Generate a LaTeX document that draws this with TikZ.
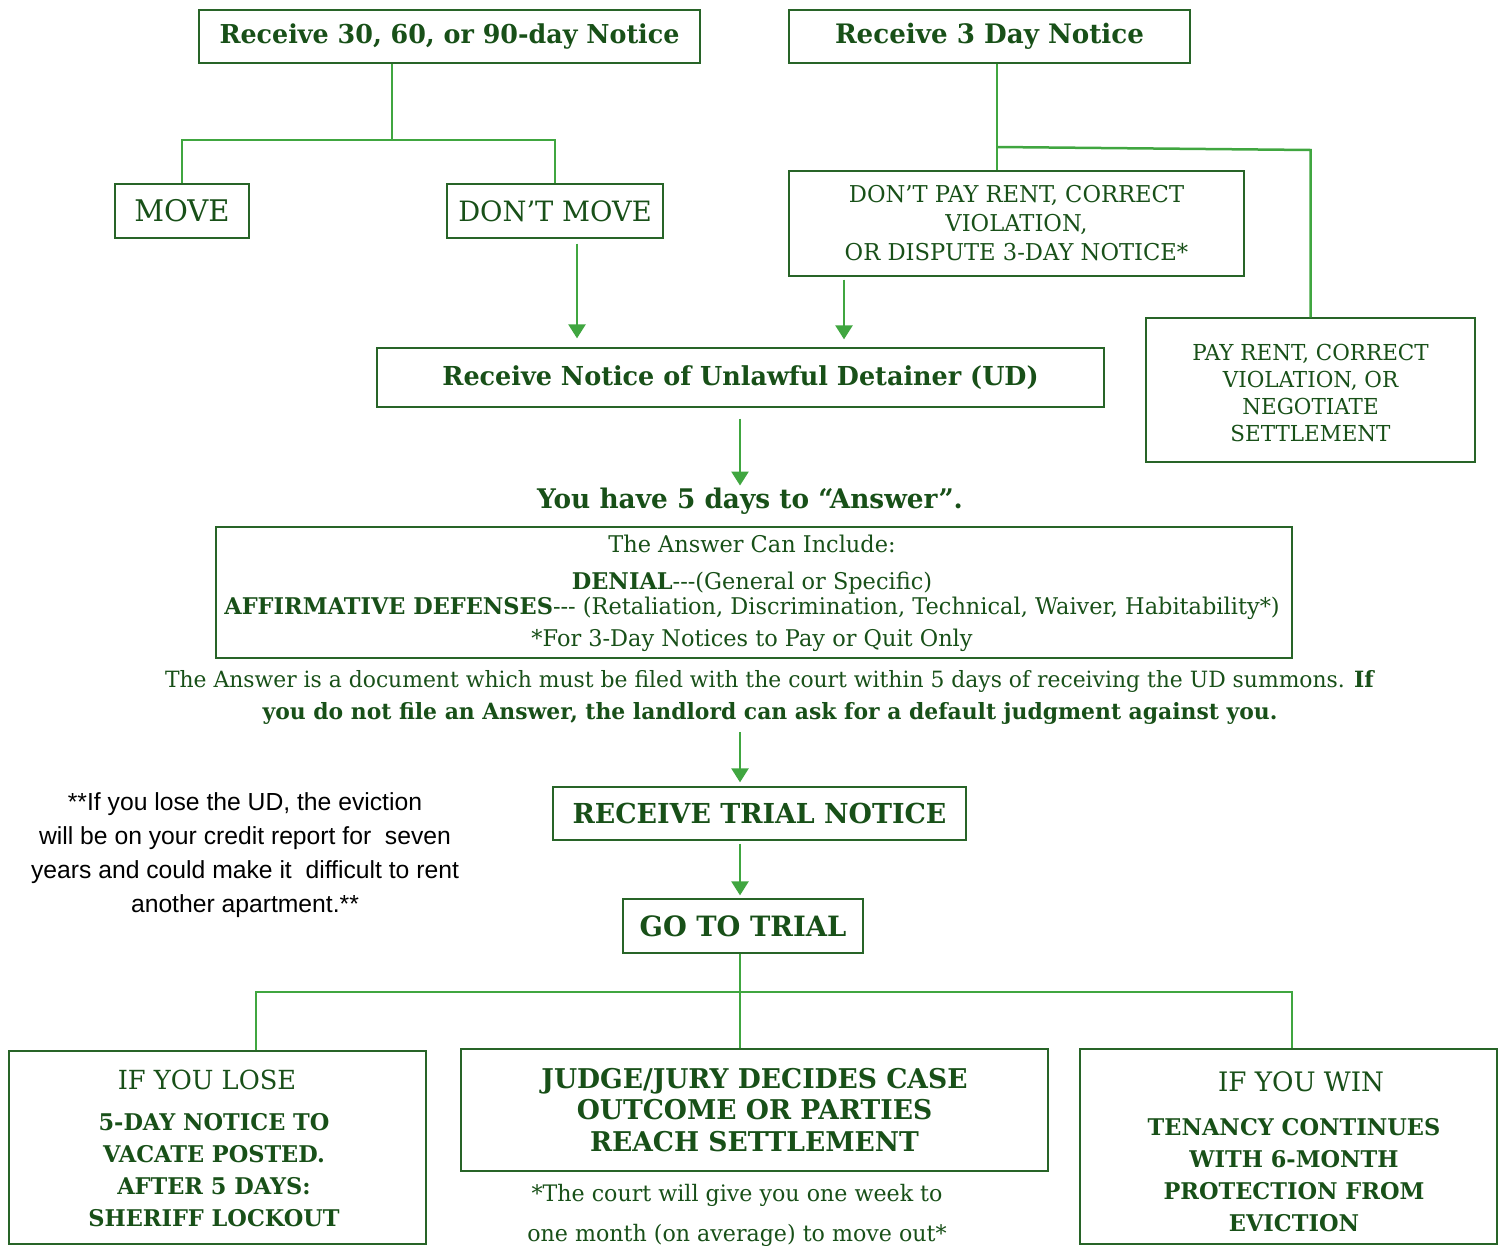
\documentclass[tikz,border=0pt]{standalone}
\usepackage{fontspec}
\usetikzlibrary{arrows.meta,calc}
\newfontfamily\slab{DejaVu Serif}[FakeStretch=0.976]
\newfontfamily\sansn{Liberation Sans}
\definecolor{tgreen}{RGB}{24,80,24}
\definecolor{lgreen}{RGB}{64,166,64}
\definecolor{bgreen}{RGB}{40,100,40}
\newcommand{\fs}[2]{\fontsize{#1}{#2}\selectfont}
\tikzset{
  box/.style={draw=bgreen, line width=1.3pt, inner sep=0pt, text=tgreen, align=center, font=\slab},
  txt/.style={text=tgreen, align=center, inner sep=0pt, font=\slab},
  gline/.style={draw=lgreen, line width=2.5pt},
  garrow/.style={gline, -{Triangle[width=17pt,length=14pt]}},
}
\begin{document}
\begin{tikzpicture}[x=1pt,y=-1pt]
\useasboundingbox (0,0) rectangle (1504,1245);
% top row
\node[box, minimum width=501pt, minimum height=53pt, font=\slab\bfseries\fs{26}{30}] (n30) at (449.5,36.5) {Receive 30, 60, or 90-day Notice};
\node[box, minimum width=401pt, minimum height=53pt, font=\slab\bfseries\fs{26.8}{30}] (n3) at (989.5,36.5) {Receive 3 Day Notice};
\node[box, minimum width=134pt, minimum height=54pt, font=\slab\fs{29.8}{32}] (move) at (182,211) {MOVE};
\node[box, minimum width=216pt, minimum height=54pt, font=\slab\fs{28}{32}] (dmove) at (555,211) {DON’T MOVE};
\node[box, minimum width=455pt, minimum height=105pt, font=\slab\fs{23.2}{29}] (dpr) at (1016.5,223.5) {DON’T PAY RENT, CORRECT\\VIOLATION,\\OR DISPUTE 3-DAY NOTICE*};
\node[box, minimum width=329pt, minimum height=144pt] (pr) at (1310.5,390) {};
\node[txt, font=\slab\fs{22}{26.7}] (prtxt) at (1310.5,393) {PAY RENT, CORRECT\\VIOLATION, OR\\NEGOTIATE\\SETTLEMENT};
\node[box, minimum width=727pt, minimum height=59pt, font=\slab\bfseries\fs{26.1}{32}] (ud) at (740.5,377.5) {Receive Notice of Unlawful Detainer (UD)};
\node[txt, font=\slab\bfseries\fs{27}{30}] (ans5) at (750,501) {You have 5 days to “Answer”.};
\node[box, minimum width=1076pt, minimum height=131pt] (ansbox) at (754,592.5) {};
\node[txt, font=\slab\fs{23}{28}] (inc) at (752,544) {The Answer Can Include:};
\node[txt, font=\slab\fs{23}{28}] (den) at (752,583) {\textbf{DENIAL}---(General or Specific)};
\node[txt, font=\slab\fs{23}{28}] (aff) at (752,608) {\textbf{AFFIRMATIVE DEFENSES}--- (Retaliation, Discrimination, Technical, Waiver, Habitability*)};
\node[txt, font=\slab\fs{23}{28}] (foot) at (752,640) {*For 3-Day Notices to Pay or Quit Only};
\node[txt, font=\slab\fs{22.4}{32}] (para) at (770,697) {The Answer is a document which must be filed with the court within 5 days of receiving the UD summons. \textbf{If}\\\textbf{you do not file an Answer, the landlord can ask for a default judgment against you.}};
\node[box, minimum width=413pt, minimum height=53pt, font=\slab\bfseries\fs{27.5}{32}] (rtn) at (759.5,813.5) {RECEIVE TRIAL NOTICE};
\node[box, minimum width=240pt, minimum height=54pt, font=\slab\bfseries\fs{28}{32}] (gtt) at (743,926) {GO TO TRIAL};
\node[txt, text=black, font=\sansn\fs{24.7}{34}] (note) at (245,855) {**If you lose the UD, the eviction\\will be on your credit report for\ \ seven\\years and could make it\ \ difficult to rent\\another apartment.**};
% bottom row
\node[box, minimum width=417pt, minimum height=193pt] (lose) at (217.5,1147.5) {};
\node[txt, font=\slab\fs{26.3}{32}] (losettl) at (207,1080) {IF YOU LOSE};
\node[txt, font=\slab\bfseries\fs{23}{32}] (losetxt) at (214,1170) {5-DAY NOTICE TO\\VACATE POSTED.\\AFTER 5 DAYS:\\SHERIFF LOCKOUT};
\node[box, minimum width=587pt, minimum height=122pt, font=\slab\bfseries\fs{27.2}{31.5}] (jj) at (754.5,1110) {JUDGE/JURY DECIDES CASE\\OUTCOME OR PARTIES\\REACH SETTLEMENT};
\node[txt, font=\slab\fs{22.7}{40}] (court) at (737,1215) {*The court will give you one week to\\one month (on average) to move out*};
\node[box, minimum width=417pt, minimum height=195pt] (win) at (1288.5,1146.5) {};
\node[txt, font=\slab\fs{26.8}{32}] (winttl) at (1301,1082) {IF YOU WIN};
\node[txt, font=\slab\bfseries\fs{23}{32}] (wintxt) at (1294,1175) {TENANCY CONTINUES\\WITH 6-MONTH\\PROTECTION FROM\\EVICTION};
% connectors
\coordinate (j1) at (392,140);
\draw[gline] (j1 |- n30.south) -- (j1);
\draw[gline] (move.north) |- (j1) -| (dmove.north);
\coordinate (a1) at (577,0);
\draw[garrow, shorten <=5pt, shorten >=9pt] (dmove.south -| a1) -- (ud.north -| a1);
\coordinate (j2) at (997,147);
\coordinate (j3) at (1310.5,150);
\draw[gline] (j2 |- n3.south) -- (j2 |- dpr.north);
\draw[gline] (j2) -- (j3) -- (pr.north);
\coordinate (a2) at (844,0);
\draw[garrow, shorten <=3pt, shorten >=8pt] (dpr.south -| a2) -- (ud.north -| a2);
\coordinate (a3) at (740,0);
\draw[garrow, shorten <=11pt, shorten >=2pt] (ud.south -| a3) -- (ans5.north -| a3);
\draw[garrow, shorten <=8pt, shorten >=4pt] (para.south -| a3) -- (rtn.north -| a3);
\draw[garrow, shorten <=3pt, shorten >=3pt] (rtn.south -| a3) -- (gtt.north -| a3);
\coordinate (j4) at (740,992);
\draw[gline] (gtt.south -| a3) -- (jj.north -| a3);
\draw[gline] (lose.north -| 256,0) |- (j4) -| (win.north -| 1292,0);
\end{tikzpicture}
\end{document}
